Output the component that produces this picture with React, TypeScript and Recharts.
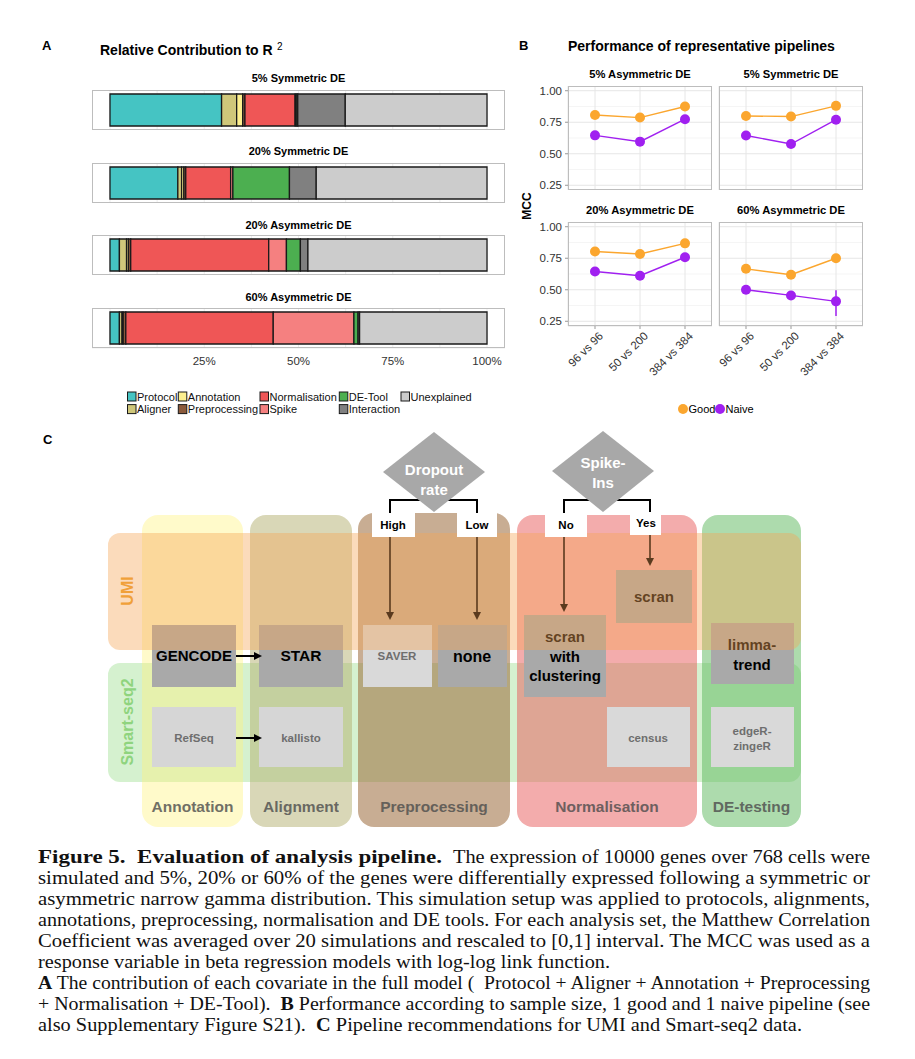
import React from "react";
import {
  BarChart,
  Bar,
  XAxis,
  YAxis,
  CartesianGrid,
  LineChart,
  Line,
  ErrorBar,
} from "recharts";

const sans = "'Liberation Sans', Arial, Helvetica, sans-serif";
const serif = "'Liberation Serif', 'Times New Roman', serif";

// ---- panel A data (percent of R^2) ----
const facetsA = ["5% Symmetric DE", "20% Symmetric DE", "20% Asymmetric DE", "60% Asymmetric DE"];
const covariates = ["Protocol", "Aligner", "Annotation", "Preprocessing", "Normalisation", "Spike", "DE-Tool", "Interaction", "Unexplained"];
const covColors = ["#45c4c3", "#cfc77a", "#fcef8f", "#8b5a3c", "#ef5656", "#f58080", "#4caf50", "#808080", "#cccccc"];
const protocol = [29.6, 18.0, 2.5, 2.5];
const aligner = [4.0, 1.0, 1.9, 0.7];
const annotation = [1.6, 0.6, 0.5, 0.3];
const preprocessing = [0.6, 0.5, 0.6, 0.7];
const normalisation = [13.3, 11.9, 36.6, 39.1];
const spike = [0.3, 0.6, 4.7, 21.4];
const deTool = [0.4, 15.0, 3.7, 1.1];
const interaction = [12.6, 7.1, 2.0, 0.4];
const unexplained = [37.6, 45.3, 47.5, 33.8];
const ticksA = [25, 50, 75, 100];
const gridA = [0, 12.5, 25, 37.5, 50, 62.5, 75, 87.5, 100];

const seriesA = [protocol, aligner, annotation, preprocessing, normalisation, spike, deTool, interaction, unexplained];
const rowsA = facetsA.map((f, i) => {
  const row: any = { facet: f };
  covariates.forEach((c, k) => (row[c] = seriesA[k][i]));
  return row;
});

// ---- panel B data (MCC) ----
const sizes = ["96 vs 96", "50 vs 200", "384 vs 384"];
const facetsB = ["5% Asymmetric DE", "5% Symmetric DE", "20% Asymmetric DE", "60% Asymmetric DE"];
const good = [
  [0.808, 0.787, 0.875],
  [0.8, 0.795, 0.88],
  [0.803, 0.784, 0.868],
  [0.666, 0.619, 0.75],
];
const naive = [
  [0.646, 0.596, 0.774],
  [0.645, 0.577, 0.77],
  [0.645, 0.611, 0.758],
  [0.5, 0.455, 0.408],
];
const naiveErrLo = [
  [0, 0, 0],
  [0, 0, 0],
  [0, 0, 0],
  [0, 0, 0.116],
];
const naiveErrHi = [
  [0, 0, 0],
  [0, 0, 0],
  [0, 0, 0],
  [0, 0, 0.089],
];
const ticksB = [0.25, 0.5, 0.75, 1.0];
const minorB = [0.375, 0.625, 0.875];
const goodColor = "#fba62e";
const naiveColor = "#a020f0";

// ---- caption ----
const captionHead = "Figure 5.  Evaluation of analysis pipeline.";
const captionHeadRest = "The expression of 10000 genes over 768 cells were";
const captionLines: [string, boolean][][] = [
  [["simulated and 5%, 20% or 60% of the genes were differentially expressed following a symmetric or", false]],
  [["asymmetric narrow gamma distribution. This simulation setup was applied to protocols, alignments,", false]],
  [["annotations, preprocessing, normalisation and DE tools. For each analysis set, the Matthew Correlation", false]],
  [["Coefficient was averaged over 20 simulations and rescaled to [0,1] interval. The MCC was used as a", false]],
  [["response variable in beta regression models with log-log link function.", false]],
  [["A", true], [" The contribution of each covariate in the full model (  Protocol + Aligner + Annotation + Preprocessing", false]],
  [["+ Normalisation + DE-Tool).  ", false], ["B", true], [" Performance according to sample size, 1 good and 1 naive pipeline (see", false]],
  [["also Supplementary Figure S21).  ", false], ["C", true], [" Pipeline recommendations for UMI and Smart-seq2 data.", false]],
];
const captionWidths = [832, 832, 832, 832, 572, 832, 832, 764];

const Frame = ({ left, top, width, height }: any) => (
  <div
    style={{
      position: "absolute",
      left,
      top,
      width,
      height,
      border: "1px solid #bdbdbd",
      boxSizing: "border-box",
      pointerEvents: "none",
    }}
  />
);

const ContributionFacet = ({ row, top, showAxis }: any) => {
  const h = showAxis ? 64 : 40;
  return (
    <div style={{ position: "absolute", left: 80, top, width: 440, height: h }}>
      <BarChart width={440} height={h} data={[row]} layout="vertical" margin={{ top: 0, right: 15, bottom: 0, left: 0 }} barSize={32}>
        <CartesianGrid verticalValues={gridA} stroke="#e8e8e8" strokeWidth={0.8} />
        <XAxis
          type="number"
          domain={[-4.77, 104.77]}
          ticks={ticksA}
          allowDataOverflow
          hide={!showAxis}
          tickFormatter={(v) => `${v}%`}
          axisLine={false}
          tickLine={false}
          tickSize={7}
          height={24}
          tick={{ fontSize: 11.5, fill: "#333", fontFamily: sans }}
        />
        <YAxis type="category" dataKey="facet" width={12} tick={false} tickSize={4} tickLine={{ stroke: "#8c8c8c" }} axisLine={false} />
        {covariates.map((c, i) => (
          <Bar key={c} dataKey={c} stackId="a" fill={covColors[i]} stroke="#1a1a1a" strokeWidth={1.3} isAnimationActive={false} />
        ))}
      </BarChart>
    </div>
  );
};

const SizeTick = (props: any) => {
  const { x, y, payload } = props;
  const ax = x + 3;
  return (
    <text x={ax} y={y} transform={`rotate(-45 ${ax} ${y})`} textAnchor="end" dy="0.71em" fontSize={11.5} fill="#333" fontFamily={sans}>
      {payload.value}
    </text>
  );
};

const PerfFacet = ({ idx, left, top, showY, showX }: any) => {
  const data = sizes.map((s, j) => ({
    size: s,
    Good: good[idx][j],
    Naive: naive[idx][j],
    err: [naiveErrLo[idx][j], naiveErrHi[idx][j]],
  }));
  const yW = showY ? 40 : 0;
  const padL = showY ? 0 : 40;
  const off = yW + padL;
  const w = 144 + off;
  const h = 104 + (showX ? 60 : 0);
  return (
    <div style={{ position: "absolute", left: left - off, top, width: w, height: h }}>
      <LineChart width={w} height={h} data={data} margin={{ top: 0, right: 0, bottom: 0, left: padL }}>
        <CartesianGrid horizontalValues={minorB} vertical={false} stroke="#f3f3f3" strokeWidth={0.8} />
        <CartesianGrid stroke="#e6e6e6" strokeWidth={1} />
        <XAxis
          dataKey="size"
          type="category"
          scale="point"
          padding={{ left: 27, right: 27 }}
          hide={!showX}
          height={60}
          interval={0}
          axisLine={false}
          tickSize={3}
          tickLine={{ stroke: "#999" }}
          tick={(p: any) => <SizeTick {...p} />}
        />
        <YAxis
          type="number"
          domain={[0.2125, 1.0375]}
          ticks={ticksB}
          interval={0}
          allowDataOverflow
          hide={!showY}
          width={40}
          axisLine={false}
          tickSize={3}
          tickMargin={3}
          tickLine={{ stroke: "#999" }}
          tickFormatter={(v) => v.toFixed(2)}
          tick={{ fontSize: 11.5, fill: "#333", fontFamily: sans }}
        />
        <Line dataKey="Good" stroke={goodColor} strokeWidth={1.4} dot={{ r: 5, fill: goodColor, stroke: "none" }} isAnimationActive={false} />
        <Line dataKey="Naive" stroke={naiveColor} strokeWidth={1.4} dot={{ r: 5, fill: naiveColor, stroke: "none" }} isAnimationActive={false}>
          <ErrorBar dataKey="err" direction="y" width={0} stroke={naiveColor} strokeWidth={1.5} />
        </Line>
      </LineChart>
    </div>
  );
};

const Arrow = ({ x1, y1, x2, y2, color = "#000", w = 2 }: any) => {
  // x2,y2 is the tip
  const dx = x2 - x1;
  const dy = y2 - y1;
  const len = Math.sqrt(dx * dx + dy * dy);
  const ux = dx / len;
  const uy = dy / len;
  const bx = x2 - ux * 8;
  const by = y2 - uy * 8;
  return (
    <g>
      <line x1={x1} y1={y1} x2={bx} y2={by} stroke={color} strokeWidth={w} />
      <polygon points={`${x2},${y2} ${bx - uy * 4},${by + ux * 4} ${bx + uy * 4},${by - ux * 4}`} fill={color} />
    </g>
  );
};

const BoxText = ({ x, y, lines, size, color, weight = "bold" }: any) => (
  <text x={x} textAnchor="middle" fontFamily={sans} fontWeight={weight} fontSize={size} fill={color}>
    {lines.map((l: string, i: number) => (
      <tspan key={i} x={x} y={y + i * (size * 1.3)}>
        {l}
      </tspan>
    ))}
  </text>
);

const PanelC = () => (
  <g>
    {/* Smart-seq2 band (underneath the stage columns) */}
    <rect x={108} y={663} width={693} height={119} rx={12} fill="#7ed66e" opacity={0.33} />
    {/* stage columns */}
    <rect x={142} y={515} width={101} height={312} rx={16} fill="#fff27a" opacity={0.4} />
    <rect x={250} y={515} width={102} height={312} rx={16} fill="#b4b070" opacity={0.5} />
    <rect x={358} y={513} width={152} height={314} rx={16} fill="#9a6a3a" opacity={0.55} />
    <rect x={517} y={515} width={180} height={312} rx={16} fill="#e85a5a" opacity={0.5} />
    <rect x={702} y={515} width={99} height={312} rx={16} fill="#5cb85c" opacity={0.5} />
    {/* tool boxes */}
    <rect x={152} y={625} width={84} height={62} fill="#a9a9a9" />
    <rect x={259} y={625} width={84} height={62} fill="#a9a9a9" />
    <rect x={363} y={625} width={69} height={62} fill="#d9d9d9" />
    <rect x={438} y={625} width={69} height={62} fill="#a9a9a9" />
    <rect x={524} y={615} width={82} height={82} fill="#a9a9a9" />
    <rect x={616} y={570} width={76} height={53} fill="#a9a9a9" />
    <rect x={711} y={623} width={83} height={61} fill="#a9a9a9" />
    <rect x={152} y={707} width={84} height={60} fill="#d6d6d6" />
    <rect x={259} y={707} width={84} height={60} fill="#d6d6d6" />
    <rect x={607} y={707} width={83} height={60} fill="#d9d9d9" />
    <rect x={711} y={707} width={83} height={60} fill="#d9d9d9" />
    <BoxText x={194} y={661} lines={["GENCODE"]} size={15} color="#000" />
    <BoxText x={301} y={661} lines={["STAR"]} size={15.5} color="#000" />
    <BoxText x={397} y={660} lines={["SAVER"]} size={11.5} color="#6e6e6e" />
    <BoxText x={472} y={662} lines={["none"]} size={16} color="#000" />
    <BoxText x={565} y={642} lines={["scran", "with", "clustering"]} size={15} color="#000" />
    <BoxText x={654} y={602} lines={["scran"]} size={15} color="#000" />
    <BoxText x={752} y={650} lines={["limma-", "trend"]} size={15} color="#000" />
    <BoxText x={194} y={742} lines={["RefSeq"]} size={11.5} color="#6e6e6e" />
    <BoxText x={301} y={742} lines={["kallisto"]} size={11.5} color="#6e6e6e" />
    <BoxText x={648} y={742} lines={["census"]} size={11.5} color="#6e6e6e" />
    <BoxText x={752} y={735} lines={["edgeR-", "zingeR"]} size={11.5} color="#6e6e6e" />
    {/* UMI band (over the boxes) */}
    <rect x={108} y={533} width={693} height={117} rx={12} fill="#f5a455" opacity={0.4} />
    <text transform="translate(133 591) rotate(-90)" textAnchor="middle" fontFamily={sans} fontWeight="bold" fontSize={16} fill="#f0a038">
      UMI
    </text>
    <text transform="translate(133 722) rotate(-90)" textAnchor="middle" fontFamily={sans} fontWeight="bold" fontSize={16} fill="#8fd47e">
      Smart-seq2
    </text>
    <Arrow x1={236} y1={656} x2={262} y2={656} />
    <Arrow x1={236} y1={738} x2={262} y2={738} />
    {/* stage labels */}
    {[
      ["Annotation", 192.5],
      ["Alignment", 301],
      ["Preprocessing", 434],
      ["Normalisation", 607],
      ["DE-testing", 751.5],
    ].map(([t, x]: any) => (
      <text key={t} x={x} y={812} textAnchor="middle" fontFamily={sans} fontWeight="bold" fontSize={15.5} fill="#4d4d4d" opacity={0.8}>
        {t}
      </text>
    ))}
    {/* decision brackets */}
    <polyline points="390,513 390,500 477,500 477,513" fill="none" stroke="#000" strokeWidth={2} />
    <polyline points="564,513 564,500 650,500 650,513" fill="none" stroke="#000" strokeWidth={2} />
    <polygon points="434,432 485,472 434,512 383,472" fill="#a8a8a8" />
    <polygon points="603,431 654,471 603,512 552,471" fill="#a8a8a8" />
    <BoxText x={434} y={475} lines={["Dropout", "rate"]} size={15} color="#fff" />
    <BoxText x={603} y={468} lines={["Spike-", "Ins"]} size={15} color="#fff" />
    <rect x={372} y={513} width={43} height={24} fill="#fff" />
    <rect x={457} y={513} width={40} height={24} fill="#fff" />
    <rect x={545} y={513} width={42} height={24} fill="#fff" />
    <rect x={630} y={512} width={31} height={23} fill="#fff" />
    <BoxText x={393} y={529} lines={["High"]} size={11.5} color="#000" />
    <BoxText x={477} y={529} lines={["Low"]} size={11.5} color="#000" />
    <BoxText x={566} y={529} lines={["No"]} size={11.5} color="#000" />
    <BoxText x={646} y={527} lines={["Yes"]} size={11.5} color="#000" />
    <Arrow x1={390} y1={537} x2={390} y2={620} color="#5a3a1e" w={1.6} />
    <Arrow x1={477} y1={537} x2={477} y2={620} color="#5a3a1e" w={1.6} />
    <Arrow x1={564} y1={537} x2={564} y2={612} color="#5a3a1e" w={1.6} />
    <Arrow x1={650} y1={535} x2={650} y2={566} color="#5a3a1e" w={1.6} />
  </g>
);

export default function App() {
  const legendCols = [[0, 1], [2, 3], [4, 5], [6, 7], [8]];
  const legendX = [127.5, 178.3, 260, 339.3, 401];
  return (
    <div style={{ position: "absolute", left: 0, top: 0, width: 915, height: 1059, background: "#fff", fontFamily: sans }}>
      <svg width={915} height={1059} style={{ position: "absolute", left: 0, top: 0 }}>
        {/* panel A texts */}
        <text x={42} y={50} fontFamily={sans} fontWeight="bold" fontSize={13}>A</text>
        <text x={100} y={55} fontFamily={sans} fontWeight="bold" fontSize={14}>Relative Contribution to R</text>
        <text x={277} y={50} fontFamily={sans} fontSize={10}>2</text>
        {facetsA.map((f, i) => (
          <text key={f} x={298.5} y={[82, 155, 229, 301][i]} textAnchor="middle" fontFamily={sans} fontWeight="bold" fontSize={11}>
            {f}
          </text>
        ))}
        {legendCols.map((col, ci) =>
          col.map((k, ri) => (
            <g key={covariates[k]}>
              <rect x={legendX[ci]} y={392 + ri * 12.6} width={8.5} height={9} fill={covColors[k]} stroke="#1a1a1a" strokeWidth={1} />
              <text x={legendX[ci] + 9.5} y={400.5 + ri * 12.6} fontFamily={sans} fontSize={11} fill="#111">
                {covariates[k]}
              </text>
            </g>
          ))
        )}
        {/* panel B texts */}
        <text x={519} y={50} fontFamily={sans} fontWeight="bold" fontSize={13}>B</text>
        <text x={568} y={51} fontFamily={sans} fontWeight="bold" fontSize={14}>Performance of representative pipelines</text>
        {facetsB.map((f, i) => (
          <text key={f} x={i % 2 === 0 ? 640 : 791} y={i < 2 ? 78 : 214} textAnchor="middle" fontFamily={sans} fontWeight="bold" fontSize={11.2}>
            {f}
          </text>
        ))}
        <text transform="translate(531 206) rotate(-90)" textAnchor="middle" fontFamily={sans} fontWeight="bold" fontSize={12}>MCC</text>
        <circle cx={683} cy={409} r={5} fill={goodColor} />
        <text x={688.5} y={413} fontFamily={sans} fontSize={11}>Good</text>
        <circle cx={720} cy={409} r={5} fill={naiveColor} />
        <text x={725.5} y={413} fontFamily={sans} fontSize={11}>Naive</text>
        {/* panel C */}
        <text x={43} y={444} fontFamily={sans} fontWeight="bold" fontSize={13}>C</text>
        <PanelC />
        {/* caption */}
        <text x={38} y={863} fontFamily={serif} fontSize={18} fontWeight="bold" fill="#111" textLength={404} lengthAdjust="spacingAndGlyphs" style={{ whiteSpace: "pre" }}>
          {captionHead}
        </text>
        <text x={453} y={863} fontFamily={serif} fontSize={18} fill="#111" textLength={417} lengthAdjust="spacingAndGlyphs">
          {captionHeadRest}
        </text>
        {captionLines.map((segs, i) => (
          <text
            key={i}
            x={38}
            y={884 + i * 21}
            fontFamily={serif}
            fontSize={18}
            fill="#111"
            textLength={captionWidths[i]}
            lengthAdjust="spacingAndGlyphs"
            style={{ whiteSpace: "pre" }}
          >
            {segs.map(([t, b], j) => (
              <tspan key={j} fontWeight={b ? "bold" : "normal"}>
                {t}
              </tspan>
            ))}
          </text>
        ))}
      </svg>

      {rowsA.map((row, i) => (
        <ContributionFacet key={row.facet} row={row} top={[90, 163, 235, 308][i]} showAxis={i === 3} />
      ))}
      {[90, 163, 235, 308].map((t) => (
        <Frame key={t} left={92} top={t} width={413} height={40} />
      ))}

      <PerfFacet idx={0} left={568} top={86} showY showX={false} />
      <PerfFacet idx={1} left={719} top={86} showY={false} showX={false} />
      <PerfFacet idx={2} left={568} top={222} showY showX />
      <PerfFacet idx={3} left={719} top={222} showY={false} showX />
      {[
        [568, 86],
        [719, 86],
        [568, 222],
        [719, 222],
      ].map(([l, t]) => (
        <Frame key={`${l}-${t}`} left={l} top={t} width={144} height={104} />
      ))}
    </div>
  );
}
